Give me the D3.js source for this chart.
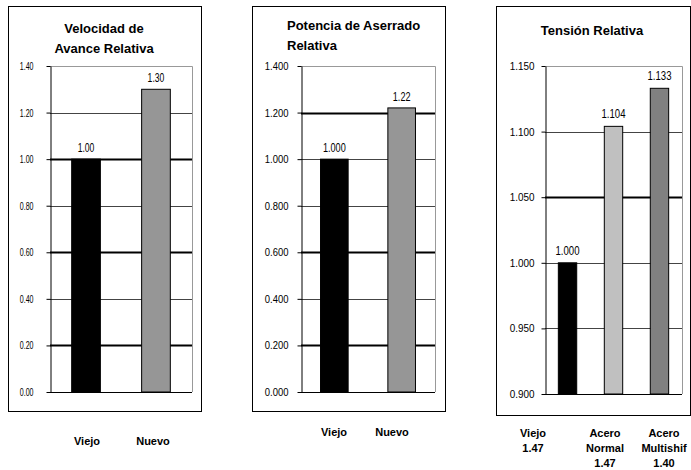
<!DOCTYPE html>
<html>
<head>
<meta charset="utf-8">
<script src="https://cdn.jsdelivr.net/npm/d3@7/dist/d3.min.js"></script>
<style>
  html, body { margin: 0; padding: 0; background: #fff; }
  svg { display: block; }
</style>
</head>
<body>
<svg id="chart" width="691" height="470"></svg>
<script>
// ---- Velocidad de Avance Relativa ----
const velCategories = [["Viejo"], ["Nuevo"]];
const velValues = [1.00, 1.30];
const velLabels = ["1.00", "1.30"];
const velTicks = [0, 0.2, 0.4, 0.6, 0.8, 1.0, 1.2, 1.4];

// ---- Potencia de Aserrado Relativa ----
const potCategories = [["Viejo"], ["Nuevo"]];
const potValues = [1.000, 1.22];
const potLabels = ["1.000", "1.22"];
const potTicks = [0, 0.2, 0.4, 0.6, 0.8, 1.0, 1.2, 1.4];

// ---- Tensión Relativa ----
const tenCategories = [["Viejo", "1.47"], ["Acero", "Normal", "1.47"], ["Acero", "Multishif", "1.40"]];
const tenValues = [1.000, 1.104, 1.133];
const tenLabels = ["1.000", "1.104", "1.133"];
const tenTicks = [0.900, 0.950, 1.000, 1.050, 1.100, 1.150];

const svg = d3.select("#chart");
const font = "'Liberation Sans', Arial, sans-serif";

// squeeze text horizontally around its anchor point
function squeeze(sel, s) {
  sel.each(function () {
    const t = d3.select(this);
    const x = +t.attr("x") || 0;
    t.attr("x", x / s).attr("transform", `scale(${s},1)`);
  });
}

function drawPanel(p) {
  const g = svg.append("g");

  // outer frame
  g.append("rect")
    .attr("x", p.box[0] + 0.5).attr("y", p.box[1] + 0.5)
    .attr("width", p.box[2]).attr("height", p.box[3])
    .attr("fill", "#fff").attr("stroke", "#000").attr("stroke-width", 1);

  // title
  p.title.forEach((line, i) => {
    g.append("text")
      .attr("x", p.titleX).attr("y", p.titleY + i * 20)
      .attr("text-anchor", p.titleAnchor)
      .attr("font-family", font)
      .attr("font-weight", "bold")
      .attr("font-size", 13)
      .attr("fill", "#000")
      .text(line);
  });

  const x = d3.scaleBand()
    .domain(d3.range(p.values.length))
    .range([p.plot.left, p.plot.right])
    .paddingInner(p.padInner).paddingOuter(p.padOuter);
  const y = d3.scaleLinear()
    .domain([p.ticks[0], p.ticks[p.ticks.length - 1]])
    .range([p.plot.bottom, p.plot.top]);

  // gridlines
  g.append("g").selectAll("line")
    .data(p.ticks.slice(1, -1))
    .join("line")
    .attr("x1", p.plot.left).attr("x2", p.plot.right)
    .attr("y1", d => Math.round(y(d)) + 0.5).attr("y2", d => Math.round(y(d)) + 0.5)
    .attr("stroke", (d, i) => p.thick[i] ? "#000" : "#444")
    .attr("stroke-width", (d, i) => p.thick[i] ? 2.2 : 1);

  // plot area top/right border
  g.append("path")
    .attr("d", `M${p.plot.left},${p.plot.top + 0.5}H${p.plot.right + 0.5}V${p.plot.bottom}`)
    .attr("fill", "none").attr("stroke", "#999").attr("stroke-width", 1);

  // bars
  g.append("g").selectAll("rect")
    .data(p.values)
    .join("rect")
    .attr("x", (d, i) => x(i))
    .attr("y", d => y(d))
    .attr("width", x.bandwidth())
    .attr("height", d => y(p.ticks[0]) - y(d))
    .attr("fill", (d, i) => p.colors[i])
    .attr("stroke", "#000").attr("stroke-width", 1);

  // value labels
  g.append("g").selectAll("text")
    .data(p.values)
    .join("text")
    .attr("transform", (d, i) =>
      `translate(${x(i) + x.bandwidth() / 2},${y(d) - p.labelGap}) scale(${p.valueScale},1)`)
    .attr("text-anchor", "middle")
    .attr("font-family", font)
    .attr("font-size", 12)
    .attr("fill", "#000")
    .text((d, i) => p.labels[i]);

  // y axis
  const axis = d3.axisLeft(y)
    .tickValues(p.ticks)
    .tickFormat(d3.format(p.fmt))
    .tickSize(4).tickSizeOuter(0).tickPadding(p.tickPad);
  const ag = g.append("g")
    .attr("transform", `translate(${p.plot.left + 0.5},0)`)
    .call(axis);
  ag.select(".domain").attr("stroke", "#000");
  ag.selectAll(".tick line").attr("stroke", "#000");
  const tt = ag.selectAll(".tick text")
    .attr("font-family", font).attr("font-size", p.tickFont)
    .attr("fill", "#000");
  squeeze(tt, p.tickScale);

  // x-axis baseline
  g.append("line")
    .attr("x1", p.plot.left).attr("x2", p.plot.right)
    .attr("y1", p.plot.bottom + 0.5).attr("y2", p.plot.bottom + 0.5)
    .attr("stroke", "#000");

  // category labels below the frame
  p.categories.forEach((lines, i) => {
    lines.forEach((line, j) => {
      g.append("text")
        .attr("x", p.catX[i]).attr("y", p.catY + j * 15)
        .attr("text-anchor", "middle")
        .attr("font-family", font)
        .attr("font-weight", "bold")
        .attr("font-size", 11)
        .attr("fill", "#000")
        .text(line);
    });
  });
}

drawPanel({
  box: [8, 6, 193, 405],
  title: ["Velocidad de", "Avance Relativa"],
  titleX: 104, titleY: 33, titleAnchor: "middle",
  plot: { left: 50, right: 192, top: 66, bottom: 392 },
  padInner: 0.59, padOuter: 0.31,
  values: velValues, labels: velLabels, ticks: velTicks, fmt: ".2f",
  tickFont: 11, tickScale: 0.64, tickPad: 13,
  valueScale: 0.72, labelGap: 7,
  categories: velCategories,
  colors: ["#000000", "#969696"],
  thick: [true, false, true, false, true, false],
  catX: [87, 153], catY: 445
});

drawPanel({
  box: [252, 6, 193, 405],
  title: ["Potencia de Aserrado", "Relativa"],
  titleX: 287, titleY: 30, titleAnchor: "start",
  plot: { left: 301, right: 435, top: 66, bottom: 392 },
  padInner: 0.59, padOuter: 0.29,
  values: potValues, labels: potLabels, ticks: potTicks, fmt: ".3f",
  tickFont: 11, tickScale: 0.86, tickPad: 9,
  valueScale: 0.76, labelGap: 7,
  categories: potCategories,
  colors: ["#000000", "#969696"],
  thick: [true, false, true, false, false, true],
  catX: [334, 392], catY: 436
});

drawPanel({
  box: [496, 6, 194, 409],
  title: ["Tensión Relativa"],
  titleX: 592, titleY: 35, titleAnchor: "middle",
  plot: { left: 545, right: 682, top: 66, bottom: 394 },
  padInner: 0.6, padOuter: 0.29,
  values: tenValues, labels: tenLabels, ticks: tenTicks, fmt: ".3f",
  tickFont: 11, tickScale: 0.9, tickPad: 7,
  valueScale: 0.8, labelGap: 8,
  categories: tenCategories,
  colors: ["#000000", "#c0c0c0", "#808080"],
  thick: [false, false, true, false],
  catX: [533, 605, 664], catY: 437
});
</script>
</body>
</html>
